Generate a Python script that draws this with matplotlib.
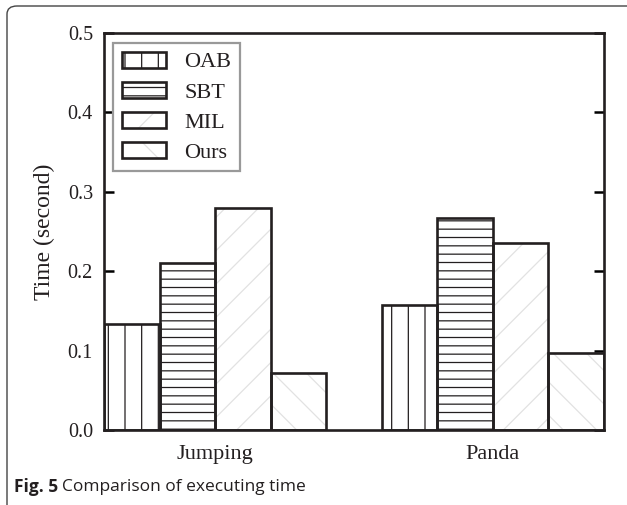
import matplotlib.pyplot as plt
import numpy as np
from matplotlib.patches import FancyBboxPatch

methods = ['OAB', 'SBT', 'MIL', 'Ours']
sequences = ['Jumping', 'Panda']
jumping = [0.133, 0.210, 0.280, 0.072]
panda = [0.157, 0.267, 0.235, 0.097]

hatches = ['|', '--', '/', '\\']
hatch_colors = ['#231f20', '#231f20', '#e2e2e2', '#e2e2e2']
ink = '#231f20'

plt.rcParams['font.family'] = 'Liberation Serif'
plt.rcParams['hatch.linewidth'] = 0.9

fig = plt.figure(figsize=(6.27, 5.05), dpi=100)
ax = fig.add_axes([0.1659, 0.1485, 0.7974, 0.7862])

ind = np.arange(len(sequences))
width = 0.2
values = np.array([jumping, panda])

handles = []
for i, m in enumerate(methods):
    # hatch layer and outline layer drawn separately so hatch can be lighter
    h1 = ax.bar(ind + i * width, values[:, i], width, align='edge', color='white',
                edgecolor=hatch_colors[i], linewidth=0, hatch=hatches[i], zorder=2)
    h2 = ax.bar(ind + i * width, values[:, i], width, align='edge', fill=False,
                edgecolor=ink, linewidth=1.9, zorder=3)
    handles.append((h1[0], h2[0]))

ax.set_xlim(0, 1.8)
ax.set_ylim(0, 0.5)
ax.set_yticks(np.arange(0, 0.51, 0.1))
ax.set_yticklabels(['%.1f' % v for v in np.arange(0, 0.51, 0.1)], fontsize=14.5, color=ink)
ax.set_xticks(ind + 0.4)
ax.set_xticklabels(sequences, fontsize=16, color=ink)
ax.tick_params(axis='y', direction='in', length=7, width=1.8, right=True, pad=8)
ax.tick_params(axis='x', length=0, pad=11)
ax.set_ylabel('Time (second)', fontsize=17, color=ink, labelpad=9)
for s in ax.spines.values():
    s.set_linewidth(1.9)
    s.set_color(ink)

leg = ax.legend(handles, methods, loc='upper left', bbox_to_anchor=(0.018, 0.975),
                borderaxespad=0, fancybox=False, framealpha=1, fontsize=16,
                handlelength=2.0, handleheight=0.72, labelspacing=0.42,
                handletextpad=0.8, borderpad=0.4)
leg.get_frame().set_edgecolor('#999999')
leg.get_frame().set_linewidth(1.6)
for t in leg.get_texts():
    t.set_color(ink)

# journal figure frame
border = FancyBboxPatch((7 / 627, -0.1), 1.2, 1.1 - 6 / 505,
                        boxstyle='round,pad=0,rounding_size=0.016',
                        transform=fig.transFigure, fill=False,
                        edgecolor='#444444', linewidth=1.0, figure=fig)
fig.patches.append(border)

fig.text(14 / 627, 1 - 487 / 505, r'Fig. 5', fontsize=12.5, fontweight='bold',
         family='Open Sans', color=ink, va='center')
fig.text(62 / 627, 1 - 487 / 505, 'Comparison of executing time', fontsize=12.5,
         family='Open Sans', color=ink, va='center')

fig.savefig('out.png', dpi=100)
